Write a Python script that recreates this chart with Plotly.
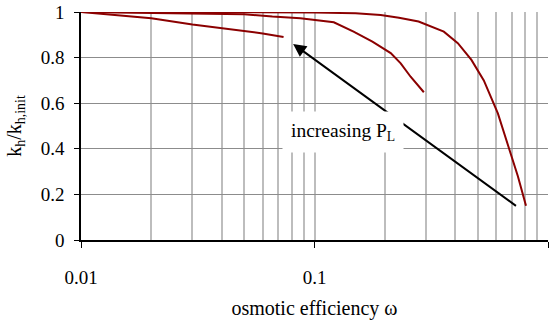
import numpy as np
import plotly.graph_objects as go

# --- data ---
x1 = [0.01, 0.02, 0.03, 0.04, 0.05, 0.06, 0.0737]
y1 = [1.0, 0.973, 0.945, 0.928, 0.917, 0.906, 0.89]

x2 = [0.01, 0.03, 0.05, 0.066, 0.087, 0.121, 0.147, 0.177, 0.212, 0.234, 0.258, 0.294]
y2 = [1.0, 0.995, 0.99, 0.98, 0.973, 0.955, 0.914, 0.87, 0.82, 0.775, 0.716, 0.648]

x3 = [0.01, 0.05, 0.1, 0.15, 0.192, 0.23, 0.279, 0.358, 0.411, 0.47, 0.531, 0.61, 0.681, 0.743, 0.805]
y3 = [1.0, 1.0, 0.998, 0.994, 0.987, 0.975, 0.958, 0.914, 0.863, 0.79, 0.70, 0.555, 0.40, 0.28, 0.15]

x_ticks = [0.01, 0.1, 1]
x_ticktext = ["0.01", "0.1", "1"]
x_minor = [m * d for d in (0.01, 0.1) for m in range(2, 10)]
y_ticks = [0, 0.2, 0.4, 0.6, 0.8, 1]

arrow_tail = (0.74, 0.145)
arrow_head = (0.081, 0.86)
label_pos = (0.133, 0.475)
label_text = "increasing P<sub>L</sub>"

FONT = "Times New Roman, Liberation Serif, DejaVu Serif, serif"
LINE = "#8B0000"

fig = go.Figure()
for xs, ys in ((x1, y1), (x2, y2), (x3, y3)):
    fig.add_trace(go.Scatter(x=xs, y=ys, mode="lines",
                             line=dict(color=LINE, width=2),
                             cliponaxis=False, showlegend=False))

fig.add_annotation(x=np.log10(arrow_head[0]), y=arrow_head[1],
                   ax=np.log10(arrow_tail[0]), ay=arrow_tail[1],
                   xref="x", yref="y", axref="x", ayref="y",
                   text="", showarrow=True, arrowhead=2, arrowsize=1.3,
                   arrowwidth=2, arrowcolor="black")

fig.add_annotation(x=np.log10(label_pos[0]), y=label_pos[1], xref="x", yref="y",
                   text=label_text, showarrow=False, bgcolor="white",
                   borderpad=8, font=dict(family=FONT, size=19.5, color="black"))

fig.update_layout(
    width=550, height=326,
    margin=dict(l=81, r=2, t=12, b=86),
    paper_bgcolor="white", plot_bgcolor="white",
    font=dict(family=FONT, size=19, color="black"),
    xaxis=dict(type="log", range=[-2, 0],
               tickmode="array", tickvals=x_ticks, ticktext=x_ticktext,
               ticks="outside", ticklen=6, tickcolor="black",
               showgrid=True, gridcolor="#bdbdbd", gridwidth=1.5,
               minor=dict(tickmode="array", tickvals=x_minor, ticks="",
                          showgrid=True, gridcolor="#bdbdbd", gridwidth=1.5),
               showline=True, linecolor="black", linewidth=1.5,
               zeroline=False, ticklabelstandoff=13,
               tickfont=dict(family=FONT, size=19),
               title=dict(text="osmotic efficiency ω", standoff=14,
                          font=dict(family=FONT, size=20))),
    yaxis=dict(range=[0, 1], tickmode="array", tickvals=y_ticks,
               ticks="outside", ticklen=5, tickcolor="black",
               showgrid=True, gridcolor="#8c8c8c", gridwidth=1,
               showline=True, linecolor="black", linewidth=1.5,
               zeroline=False, ticklabelstandoff=6,
               tickfont=dict(family=FONT, size=19),
               title=dict(text="k<sub>h</sub>/k<sub>h,init</sub>", standoff=14,
                          font=dict(family=FONT, size=20))),
)

fig.write_html("out.html")
